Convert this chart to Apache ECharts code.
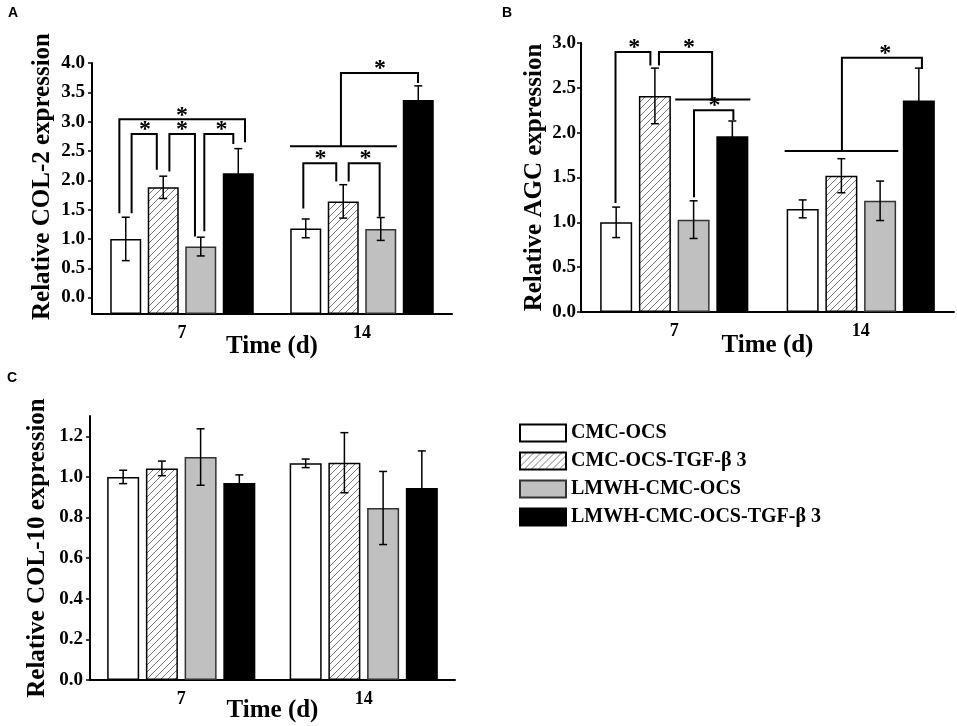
<!DOCTYPE html>
<html>
<head>
<meta charset="utf-8">
<script src="https://cdn.jsdelivr.net/npm/echarts@6/dist/echarts.min.js"></script>
<style>
  html, body { margin: 0; padding: 0; background: #fff; }
  #chart { width: 957px; height: 726px; }
</style>
</head>
<body>
<div id="chart"></div>
<script>
var days = ['7', '14'];
var groups = ['CMC-OCS', 'CMC-OCS-TGF-β 3', 'LMWH-CMC-OCS', 'LMWH-CMC-OCS-TGF-β 3'];

// mean per group: [day 7, day 14]
var col2Mean = [[1.0, 1.18], [1.88, 1.64], [0.87, 1.17], [2.12, 3.37]];
var col2Err = [[0.37, 0.16], [0.19, 0.285], [0.16, 0.195], [0.42, 0.24]];
var agcMean = [[1.0, 1.15], [2.41, 1.52], [1.03, 1.24], [1.96, 2.36]];
var agcErr = [[0.17, 0.1], [0.31, 0.19], [0.21, 0.22], [0.17, 0.36]];
var col10Mean = [[1.0, 1.067], [1.042, 1.07], [1.098, 0.847], [0.97, 0.945]];
var col10Err = [[0.033, 0.021], [0.036, 0.148], [0.139, 0.18], [0.04, 0.183]];

var col2Ticks = [0, 0.5, 1.0, 1.5, 2.0, 2.5, 3.0, 3.5, 4.0];
var agcTicks = [0, 0.5, 1.0, 1.5, 2.0, 2.5, 3.0];
var col10Ticks = [0, 0.2, 0.4, 0.6, 0.8, 1.0, 1.2];

// significance brackets: offset is a fraction of the category band, y in data units
var sigA = [
    { day: 0, path: [[-0.348, 1.44], [-0.348, 3.04], [0.35, 3.04], [0.35, 2.65]], star: [0.0, 3.04] },
    { day: 0, path: [[-0.28, 1.44], [-0.28, 2.79], [-0.14, 2.79], [-0.14, 2.18]], star: [-0.205, 2.79] },
    { day: 0, path: [[-0.07, 2.15], [-0.07, 2.79], [0.072, 2.79], [0.072, 1.04]], star: [0.0, 2.79] },
    { day: 0, path: [[0.124, 1.13], [0.124, 2.79], [0.285, 2.79], [0.285, 2.62]], star: [0.22, 2.79] },
    { day: 1, path: [[-0.40, 2.58], [0.194, 2.58]], star: null },
    { day: 1, path: [[-0.117, 2.58], [-0.117, 3.83], [0.311, 3.83], [0.311, 3.66]], star: [0.1, 3.83] },
    { day: 1, path: [[-0.326, 1.52], [-0.326, 2.29], [-0.143, 2.29], [-0.143, 1.98]], star: [-0.231, 2.29] },
    { day: 1, path: [[-0.074, 1.98], [-0.074, 2.29], [0.098, 2.29], [0.098, 1.38]], star: [0.019, 2.29] }
];
var sigB = [
    { day: 0, path: [[-0.315, 1.215], [-0.315, 2.90], [-0.128, 2.90], [-0.128, 2.75]], star: [-0.214, 2.90] },
    { day: 0, path: [[-0.082, 2.75], [-0.082, 2.90], [0.203, 2.90], [0.203, 2.37]], star: [0.079, 2.90] },
    { day: 0, path: [[0.005, 2.37], [0.408, 2.37]], star: null },
    { day: 0, path: [[0.106, 1.28], [0.106, 2.25], [0.317, 2.25], [0.317, 2.14]], star: [0.216, 2.25] },
    { day: 1, path: [[-0.408, 1.795], [0.201, 1.795]], star: null },
    { day: 1, path: [[-0.101, 1.795], [-0.101, 2.836], [0.328, 2.836], [0.328, 2.71]], star: [0.132, 2.836] }
];

var chart = echarts.init(document.getElementById('chart'));

var FONT = 'Liberation Serif';

// hatch for the TGF-b3 group
var hatch = document.createElement('canvas');
hatch.width = 7;
hatch.height = 7;
var hc = hatch.getContext('2d');
hc.fillStyle = '#fff';
hc.fillRect(0, 0, 7, 7);
hc.strokeStyle = '#666';
hc.lineWidth = 0.9;
hc.beginPath();
hc.moveTo(-1, 8); hc.lineTo(8, -1);
hc.moveTo(-1, 1); hc.lineTo(1, -1);
hc.moveTo(6, 8); hc.lineTo(8, 6);
hc.stroke();

var barStyles = [
    { color: '#fff', borderColor: '#000', borderWidth: 1.5 },
    { color: { image: hatch, repeat: 'repeat' }, borderColor: '#000', borderWidth: 1.5 },
    { color: '#c0c0c0', borderColor: '#333', borderWidth: 1.5 },
    { color: '#000', borderColor: '#000', borderWidth: 1.5 }
];

var panels = [
    { mean: col2Mean, err: col2Err, ticks: col2Ticks, min: -0.28, max: 4.0, bw: 31, sig: sigA,
      grid: { left: 92, top: 63, width: 360, height: 251 }, name: 'Relative COL-2 expression', nameGap: 37,
      namePad: [0, 0, 0, 24], labelMargin: 7, xNameGap: 20 },
    { mean: agcMean, err: agcErr, ticks: agcTicks, min: 0, max: 3.0, bw: 32, sig: sigB,
      grid: { left: 581, top: 43, width: 373, height: 269 }, name: 'Relative AGC expression', nameGap: 34,
      namePad: 0, labelMargin: 5, xNameGap: 21 },
    { mean: col10Mean, err: col10Err, ticks: col10Ticks, min: 0, max: 1.3, bw: 32, sig: null,
      grid: { left: 90, top: 416, width: 365, height: 264 }, name: 'Relative COL-10 expression', nameGap: 40,
      namePad: 0, labelMargin: 7, xNameGap: 18 }
];

function errRender(step) {
    return function (params, api) {
        var d = api.value(0), g = api.value(1), m = api.value(2), e = api.value(3);
        var top = api.coord([d, m + e]);
        var bot = api.coord([d, m - e]);
        var x = top[0] + (g - 1.5) * step;
        var w = 4;
        var st = { stroke: '#000', lineWidth: 1.5 };
        return {
            type: 'group',
            children: [
                { type: 'line', shape: { x1: x, y1: top[1], x2: x, y2: bot[1] }, style: st },
                { type: 'line', shape: { x1: x - w, y1: top[1], x2: x + w, y2: top[1] }, style: st },
                { type: 'line', shape: { x1: x - w, y1: bot[1], x2: x + w, y2: bot[1] }, style: st }
            ]
        };
    };
}

function sigRender(list) {
    return function (params, api) {
        var b = list[params.dataIndex];
        var band = api.size([1, 0])[0];
        var pts = b.path.map(function (p) {
            var c = api.coord([b.day, p[1]]);
            return [c[0] + p[0] * band, c[1]];
        });
        var children = [{
            type: 'polyline',
            shape: { points: pts },
            style: { stroke: '#000', lineWidth: 2, fill: 'none' }
        }];
        if (b.star) {
            var s = api.coord([b.day, b.star[1]]);
            children.push({
                type: 'text',
                x: s[0] + b.star[0] * band,
                y: s[1] - 4,
                style: {
                    text: '*', fill: '#000', font: 'bold 24px "' + FONT + '"',
                    align: 'center', verticalAlign: 'middle'
                }
            });
        }
        return { type: 'group', children: children };
    };
}

var grids = [], xAxes = [], yAxes = [], series = [];

panels.forEach(function (p, pi) {
    grids.push(p.grid);
    xAxes.push({
        type: 'category',
        gridIndex: pi,
        data: days,
        name: 'Time (d)',
        nameLocation: 'middle',
        nameGap: p.xNameGap,
        nameMoveOverlap: false,
        nameTextStyle: { fontFamily: FONT, fontWeight: 'bold', fontSize: 25, color: '#000' },
        axisLine: { onZero: false, lineStyle: { color: '#000', width: 2 } },
        axisTick: { alignWithLabel: true, length: 5, lineStyle: { color: '#000', width: 1.5 } },
        axisLabel: { fontFamily: FONT, fontWeight: 'bold', fontSize: 18, color: '#000', margin: 10 },
        splitLine: { show: false }
    });
    yAxes.push({
        type: 'value',
        gridIndex: pi,
        min: p.min,
        max: p.max,
        startValue: p.min,
        name: p.name,
        nameLocation: 'middle',
        nameRotate: 90,
        nameGap: p.nameGap,
        nameMoveOverlap: false,
        nameTextStyle: { fontFamily: FONT, fontWeight: 'bold', fontSize: 25, color: '#000', padding: p.namePad },
        axisLine: { show: true, onZero: false, lineStyle: { color: '#000', width: 2 } },
        axisTick: { show: true, length: 4, customValues: p.ticks, lineStyle: { color: '#000', width: 1.5 } },
        axisLabel: {
            customValues: p.ticks,
            formatter: function (v) { return Number(v).toFixed(1); },
            fontFamily: FONT, fontWeight: 'bold', fontSize: 19, color: '#000', margin: p.labelMargin
        },
        splitLine: { show: false }
    });
    groups.forEach(function (name, gi) {
        series.push({
            name: name,
            type: 'bar',
            xAxisIndex: pi,
            yAxisIndex: pi,
            barWidth: p.bw,
            barGap: '21%',
            itemStyle: barStyles[gi],
            emphasis: { disabled: true },
            data: p.mean[gi]
        });
    });
    var ed = [];
    for (var g = 0; g < p.mean.length; g++) {
        for (var d = 0; d < days.length; d++) {
            ed.push([d, g, p.mean[g][d], p.err[g][d]]);
        }
    }
    series.push({
        type: 'custom',
        xAxisIndex: pi,
        yAxisIndex: pi,
        renderItem: errRender(p.bw * 1.21),
        encode: { x: 0, y: 2 },
        z: 5,
        silent: true,
        data: ed
    });
    if (p.sig) {
        series.push({
            type: 'custom',
            xAxisIndex: pi,
            yAxisIndex: pi,
            renderItem: sigRender(p.sig),
            encode: { x: 0, y: 1 },
            z: 6,
            silent: true,
            data: p.sig.map(function (b) { return [b.day, b.path[0][1]]; })
        });
    }
});

var option = {
    animation: false,
    backgroundColor: '#fff',
    title: [
        { text: 'A', left: 8, top: 6, padding: 0, textStyle: { fontFamily: 'Liberation Sans', fontWeight: 'bold', fontSize: 14, color: '#000' } },
        { text: 'B', left: 502, top: 6, padding: 0, textStyle: { fontFamily: 'Liberation Sans', fontWeight: 'bold', fontSize: 14, color: '#000' } },
        { text: 'C', left: 7, top: 371, padding: 0, textStyle: { fontFamily: 'Liberation Sans', fontWeight: 'bold', fontSize: 14, color: '#000' } }
    ],
    legend: {
        data: groups,
        orient: 'vertical',
        left: 519,
        top: 423,
        padding: 0,
        icon: 'rect',
        itemWidth: 46,
        itemHeight: 17,
        itemGap: 8,
        selectedMode: false,
        textStyle: { fontFamily: FONT, fontWeight: 'bold', fontSize: 20, color: '#000' }
    },
    grid: grids,
    xAxis: xAxes,
    yAxis: yAxes,
    series: series
};

chart.setOption(option);
</script>
</body>
</html>
